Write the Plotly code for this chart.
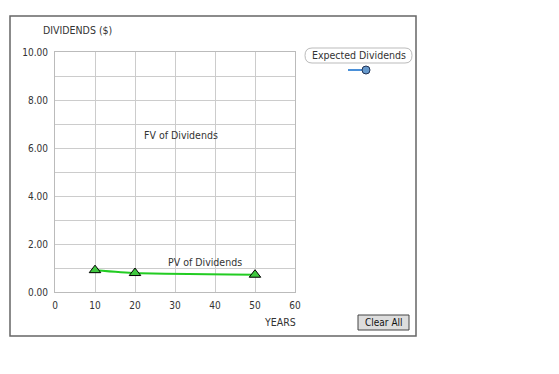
import plotly.graph_objects as go

years = [10, 20, 50]
pv_dividends = [0.91, 0.79, 0.72]
x_ticks = [0, 10, 20, 30, 40, 50, 60]
y_ticks = [0, 2, 4, 6, 8, 10]
y_tick_labels = ["0.00", "2.00", "4.00", "6.00", "8.00", "10.00"]

W, H = 559, 374
OFF = 8  # page body margin
L, R, T, B = 55, 295, 52, 292  # plot area in reference pixels

def px(x):
    return (x - L) / (R - L)

def py(y):
    return (B - y) / (B - T)

FONT = "DejaVu Sans Condensed, DejaVu Sans"
TXT = "#333333"

fig = go.Figure()
fig.add_trace(go.Scatter(
    x=years, y=pv_dividends, mode="lines+markers",
    line=dict(color="#22cc22", width=2, shape="spline", smoothing=0.5),
    marker=dict(symbol="triangle-up", size=10, color="#3fc83f",
                line=dict(color="#000000", width=1)),
    showlegend=False, hoverinfo="x+y",
))

fig.update_layout(
    width=W, height=H,
    margin=dict(l=L - OFF, r=W - R + OFF, t=T - OFF, b=H - B + OFF),
    paper_bgcolor="white", plot_bgcolor="white",
    font=dict(family=FONT, size=10, color=TXT),
    xaxis=dict(range=[0, 60], tickvals=x_ticks, ticktext=[str(v) for v in x_ticks],
               showgrid=True, gridcolor="#cccccc", gridwidth=1, zeroline=False,
               showline=True, linecolor="#bbbbbb", mirror=True, ticks="",
               ticklabelstandoff=4, fixedrange=True),
    yaxis=dict(range=[0, 10], tickvals=y_ticks, ticktext=y_tick_labels,
               showgrid=True, gridcolor="#cccccc", gridwidth=1, zeroline=False,
               showline=True, linecolor="#bbbbbb", mirror=True, ticks="",
               minor=dict(dtick=1, showgrid=True, gridcolor="#cccccc", gridwidth=1),
               ticklabelstandoff=4, fixedrange=True),
)

# Outer frame
fig.add_shape(type="rect", xref="paper", yref="paper",
              x0=px(10), x1=px(416), y0=py(336), y1=py(16),
              line=dict(color="#666666", width=1.5), fillcolor="rgba(0,0,0,0)", layer="below")

def label(text, x, y, xanchor="center", size=10, color=TXT, xref="paper", yref="paper"):
    fig.add_annotation(text=text, xref=xref, yref=yref, x=x, y=y,
                       xanchor=xanchor, yanchor="middle", showarrow=False,
                       font=dict(size=size, color=color))

# Axis titles
label("DIVIDENDS ($)", px(41), py(30), xanchor="left", size=10.5)
label("YEARS", px(298), py(322), xanchor="right", size=10.5)

# In-chart labels
label("FV of Dividends", 31.5, 6.55, size=10.5, xref="x", yref="y")
label("PV of Dividends", 37.5, 1.25, size=10.5, xref="x", yref="y")

# Legend (custom)
fig.add_shape(type="path", xref="paper", yref="paper",
              path=("M {a},{t} L {b},{t} Q {r},{t} {r},{m} Q {r},{bt} {b},{bt} "
                    "L {a},{bt} Q {l},{bt} {l},{m} Q {l},{t} {a},{t} Z").format(
                  l=px(305), a=px(312), b=px(405), r=px(412),
                  t=py(48), bt=py(63), m=py(55.5)),
              line=dict(color="#bbbbbb", width=1), fillcolor="white")
label("Expected Dividends", px(358.5), py(55.5), size=10.5)
fig.add_shape(type="line", xref="paper", yref="paper",
              x0=px(348), x1=px(366), y0=py(70), y1=py(70),
              line=dict(color="#4a90d9", width=2))
fig.add_shape(type="circle", xref="paper", yref="paper",
              x0=px(362), x1=px(370), y0=py(74), y1=py(66),
              line=dict(color="#223355", width=1), fillcolor="#6699cc")

# Clear All button
fig.add_shape(type="rect", xref="paper", yref="paper",
              x0=px(358), x1=px(409), y0=py(330), y1=py(315),
              line=dict(color="#444444", width=1), fillcolor="#dddddd")
label("Clear All", px(383.5), py(322.5), color="#111111")

fig.write_html("out.html", config={"displayModeBar": False})
